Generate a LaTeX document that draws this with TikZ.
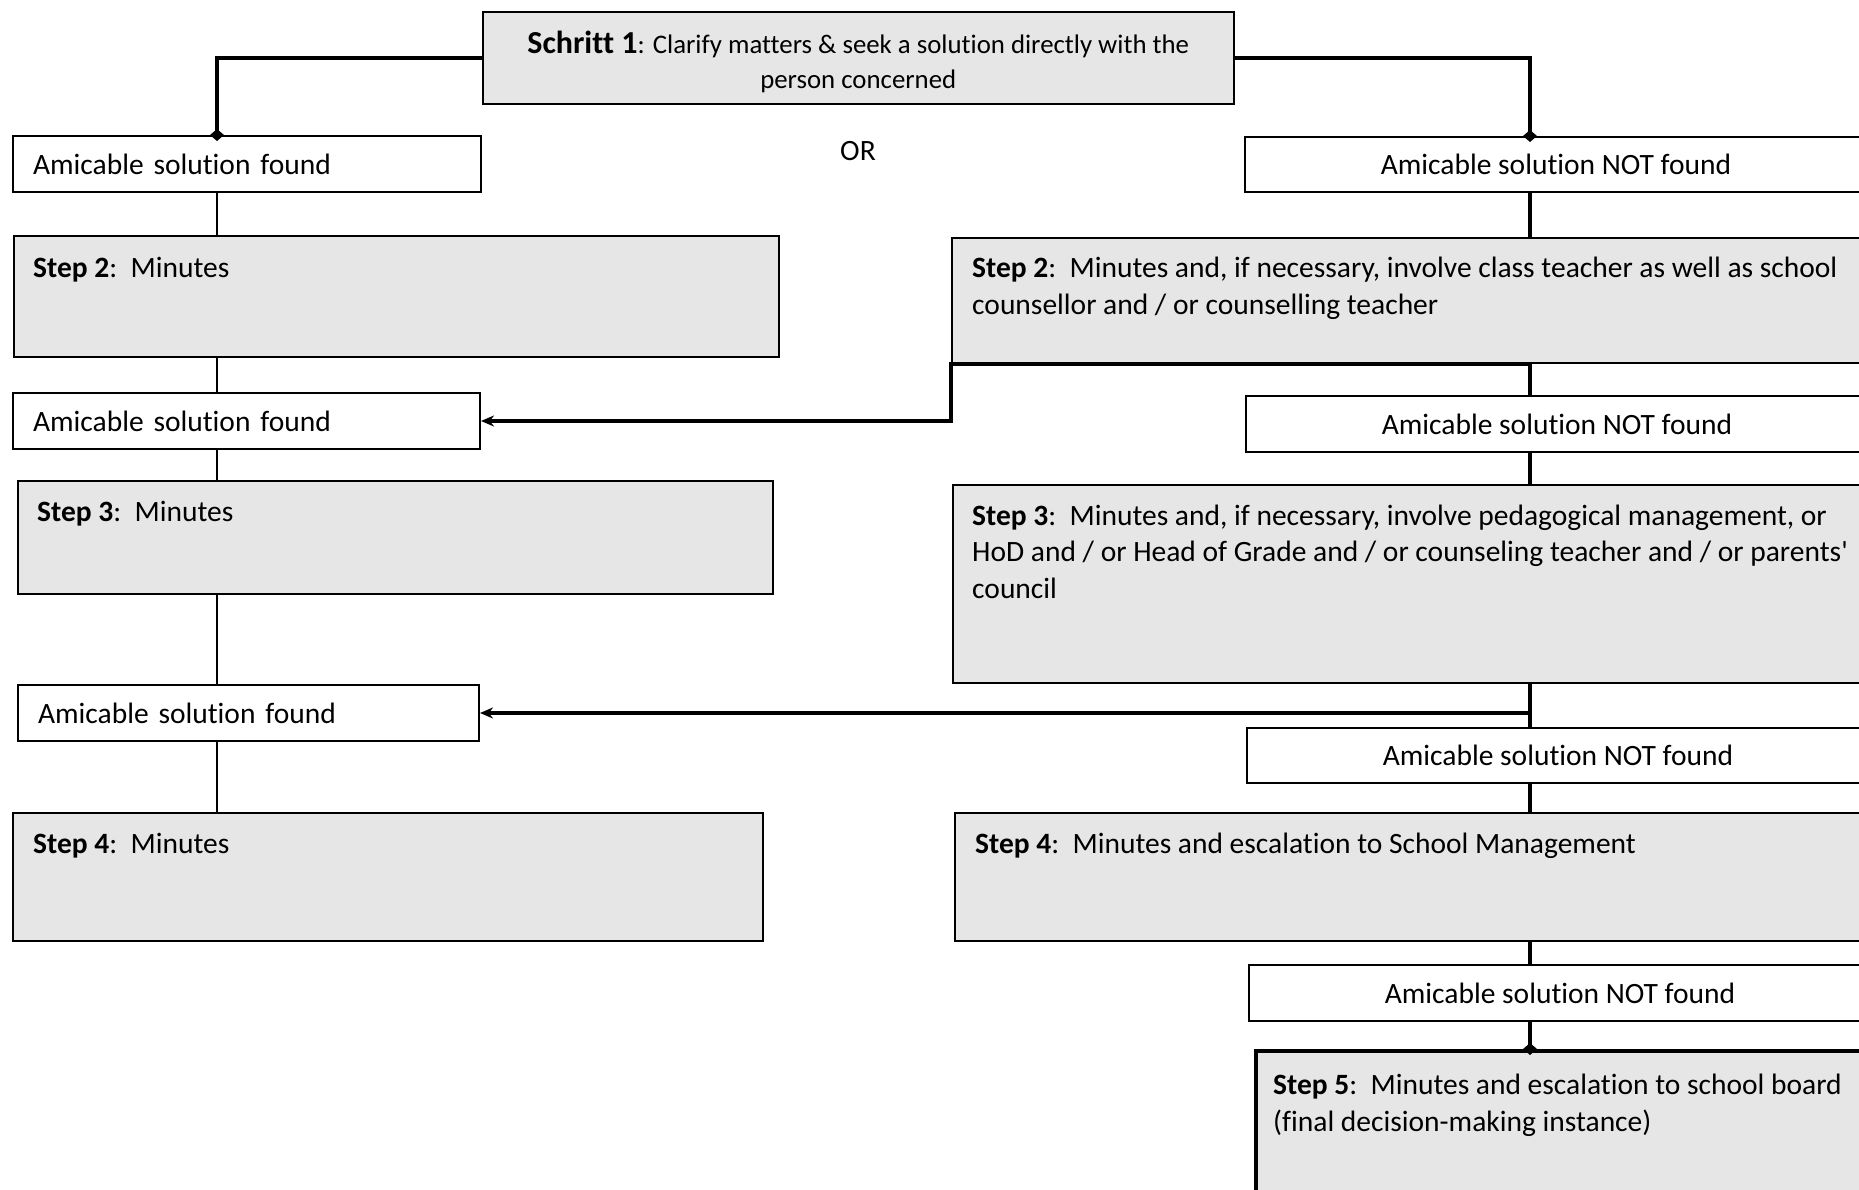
\documentclass[tikz,border=0pt]{standalone}
\usepackage{fontspec}
\setmainfont{Carlito}[Ligatures={TeXOff,CommonOff}]
\usepackage{tikz}
\usetikzlibrary{positioning}
\usetikzlibrary{arrows.meta}
\definecolor{boxgray}{RGB}{230,230,230}
\newcommand{\bigtext}{\fontsize{29.5}{36.75}\selectfont}
\newcommand{\smalltext}{\fontsize{26.8}{35.6}\selectfont}
\newcommand{\headtext}{\fontsize{32}{35.6}\selectfont}

\begin{document}
\begin{tikzpicture}[x=1pt, y=-1pt,
    whitebox/.style={draw, fill=white, line width=2pt, inner sep=0pt, anchor=north west, font=\bigtext},
    leftfound/.style={whitebox, minimum height=56pt, inner xsep=20pt, align=left},
    graybox/.style={draw, fill=boxgray, line width=1.5pt, inner sep=0pt, anchor=north west},
    boxtext/.style={anchor=base west, inner sep=0pt, align=left, font=\bigtext},
    thinlink/.style={line width=2.5pt},
    thicklink/.style={line width=4pt},
    diamondtip/.style={-{Diamond[length=12pt,width=14pt]}, shorten >=-6pt},
    arrowtip/.style={-{Stealth[length=13pt,width=11pt]}}]
    \useasboundingbox (0,0) rectangle (1859,1189);

    % step 1
    \node[graybox, minimum width=751pt, minimum height=92pt, align=center, font=\smalltext] (s1) at (482,11)
        {\rule{0pt}{31pt}{\headtext\bfseries Schritt 1}: Clarify matters \& seek a solution directly with the\\person concerned};
    \node[font=\bigtext] (or) at (858,151) {OR};

    % left column
    \node[leftfound, text width=428pt] (a1) at (12,135) {Amicable solution found};
    \node[graybox, minimum width=765pt, minimum height=121pt] (s2l) at (13,235) {};
    \node[boxtext] (t2l) at (33,277) {\textbf{Step 2}:\ \ Minutes};
    \node[leftfound, text width=427pt] (a2) at (12,392) {Amicable solution found};
    \node[graybox, minimum width=755pt, minimum height=113pt] (s3l) at (17,480) {};
    \node[boxtext] (t3l) at (37,521) {\textbf{Step 3}:\ \ Minutes};
    \node[leftfound, text width=421pt] (a3) at (17,684) {Amicable solution found};
    \node[graybox, minimum width=750pt, minimum height=128pt] (s4l) at (12,812) {};
    \node[boxtext] (t4l) at (33,853) {\textbf{Step 4}:\ \ Minutes};

    % right column (multi-line texts sit on their last baseline)
    \node[whitebox, minimum width=622pt, minimum height=55pt] (n1) at (1244,136) {Amicable solution NOT found};
    \node[graybox, minimum width=940pt, minimum height=125pt] (s2r) at (951,237) {};
    \node[boxtext] (t2r) at (972,314) {\textbf{Step 2}:\ \ Minutes and, if necessary, involve class teacher as well as school\\counsellor and / or counselling teacher};
    \node[whitebox, minimum width=622pt, minimum height=56pt] (n2) at (1245,395) {Amicable solution NOT found};
    \node[graybox, minimum width=940pt, minimum height=198pt] (s3r) at (952,484) {};
    \node[boxtext] (t3r) at (972,598.5) {\textbf{Step 3}:\ \ Minutes and, if necessary, involve pedagogical management, or\\HoD and / or Head of Grade and / or counseling teacher and / or parents'\\council};
    \node[whitebox, minimum width=622pt, minimum height=55pt] (n3) at (1246,727) {Amicable solution NOT found};
    \node[graybox, minimum width=940pt, minimum height=128pt] (s4r) at (954,812) {};
    \node[boxtext] (t4r) at (975,853) {\textbf{Step 4}:\ \ Minutes and escalation to School Management};
    \node[whitebox, minimum width=622pt, minimum height=56pt] (n4) at (1248,964) {Amicable solution NOT found};
    \node[graybox, line width=3.5pt, minimum width=640pt, minimum height=250pt] (s5) at (1254,1049) {};
    \node[boxtext] (t5) at (1273,1131) {\textbf{Step 5}:\ \ Minutes and escalation to school board\\(final decision-making instance)};

    % connectors
    \coordinate (lx) at (217,0);
    \coordinate (rx) at (1530,0);
    \draw[thicklink, diamondtip] (s1.west) -| (lx |- a1.north);
    \draw[thicklink, diamondtip] (s1.east) -| (rx |- n1.north);
    \foreach \u/\v in {a1/s2l, s2l/a2, a2/s3l, s3l/a3, a3/s4l}
        \draw[thinlink] (lx |- \u.south) -- (lx |- \v.north);
    \foreach \u/\v in {n1/s2r, s2r/n2, n2/s3r, s3r/n3, n3/s4r, s4r/n4}
        \draw[thicklink] (rx |- \u.south) -- (rx |- \v.north);
    \draw[thicklink, diamondtip] (rx |- n4.south) -- (rx |- s5.north);
    \draw[thicklink, arrowtip] (rx |- s2r.south) -- (s2r.south west) |- (a2.east);
    \draw[thicklink, arrowtip] (rx |- a3.east) -- (a3.east);
\end{tikzpicture}
\end{document}
